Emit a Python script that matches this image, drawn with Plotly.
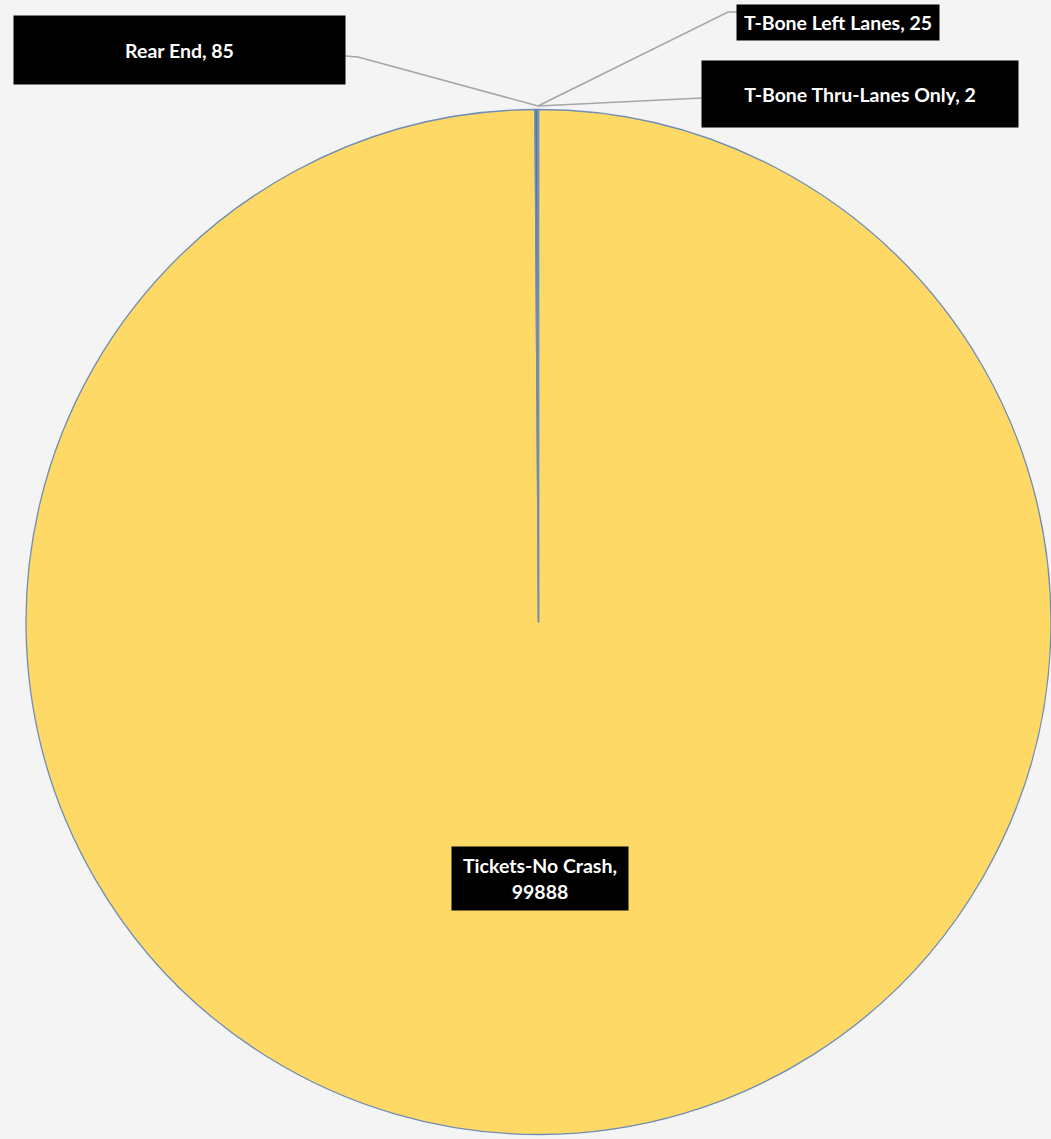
import plotly.graph_objects as go

W, H = 1051, 1139

categories = ["Tickets-No Crash", "Rear End", "T-Bone Left Lanes", "T-Bone Thru-Lanes Only"]
values = [99888, 85, 25, 2]
colors = ["#FFD966", "#4F79B8", "#5B9BD5", "#A5A5A5"]

fig = go.Figure()
fig.add_trace(go.Pie(
    labels=categories,
    values=values,
    sort=False,
    direction="clockwise",
    rotation=0,
    textinfo="none",
    hoverinfo="label+value",
    marker=dict(colors=colors, line=dict(color="#6F8DB5", width=1.3)),
    domain=dict(x=[26 / W, 1.0], y=[1 - 1136 / H, 1 - 108 / H]),
    showlegend=False,
))

def px(x):
    return x / W

def py(y):
    return 1 - y / H

# label boxes: (center x, center y, width, height) in pixels, per category
boxes = {
    "Tickets-No Crash": (540, 878.5, 176, 63),
    "Rear End": (179.5, 50, 331, 68),
    "T-Bone Left Lanes": (838, 22.5, 202, 35),
    "T-Bone Thru-Lanes Only": (860, 94, 316, 66),
}

annotations = []
for cat, val in zip(categories, values):
    cx, cy, bw, bh = boxes[cat]
    if cat == "Tickets-No Crash":
        text = f"{cat},<br>{val}"
    else:
        text = f"{cat}, {val}"
    annotations.append(dict(
        x=px(cx), y=py(cy), xref="paper", yref="paper",
        xanchor="center", yanchor="middle",
        text=f"<b>{text}</b>", showarrow=False,
        font=dict(family="Lato, Open Sans, sans-serif", size=19.5, color="white"),
        bgcolor="black", width=bw, height=bh, borderpad=0,
        align="center", valign="middle",
    ))

leaders = [
    [(345, 56), (358, 57), (538, 106)],
    [(737, 12), (728, 12), (538, 106)],
    [(702, 98), (538, 106)],
]
shapes = []
for pts in leaders:
    path = "M " + " L ".join(f"{px(x):.5f},{py(y):.5f}" for x, y in pts)
    shapes.append(dict(type="path", path=path, xref="paper", yref="paper",
                       line=dict(color="#A6A6A6", width=1.5)))

fig.update_layout(
    width=W, height=H,
    margin=dict(l=0, r=0, t=0, b=0),
    paper_bgcolor="#F4F4F4",
    plot_bgcolor="#F4F4F4",
    annotations=annotations,
    shapes=shapes,
)

fig.write_html("out.html")
